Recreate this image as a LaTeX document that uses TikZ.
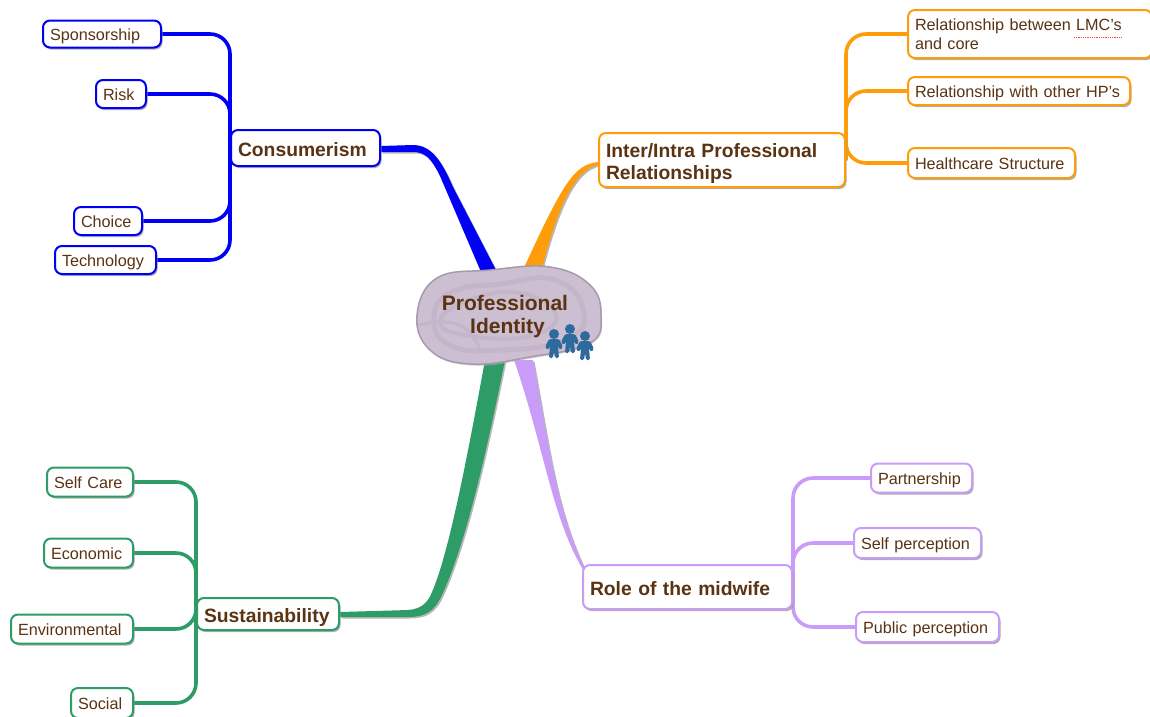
\documentclass[tikz,border=0pt]{standalone}
\usepackage{fontspec}
\setmainfont{Liberation Sans}
\usetikzlibrary{shadows,backgrounds}
\definecolor{mblue}{HTML}{0000F5}
\definecolor{morange}{HTML}{FF9C0A}
\definecolor{mgreen}{HTML}{2E9C66}
\definecolor{mpurple}{HTML}{C99CFA}
\definecolor{mbrown}{HTML}{5A3312}
\definecolor{mblob}{HTML}{CDBFD2}
\definecolor{mswirl}{HTML}{C4B5CA}
\definecolor{mpeople}{HTML}{2E6A9E}
\newcommand{\person}[2]{
	\fill[mpeople] (#1,#2-10) circle (5);
	\fill[mpeople,rounded corners=1.5] (#1-9,#2+3) -- (#1-5,#2-5) -- (#1+5,#2-5) -- (#1+9,#2+3) -- (#1+6,#2+6) -- (#1+4,#2+2) -- (#1+5,#2+14) -- (#1+1,#2+14) -- (#1,#2+7) -- (#1-1,#2+14) -- (#1-5,#2+14) -- (#1-4,#2+2) -- (#1-6,#2+6) -- cycle;
}
\begin{document}
\begin{tikzpicture}[x=1pt,y=-1pt,
				sub node/.style = {rectangle,rounded corners=7,draw,line width=2,fill=white,text=mbrown,anchor=west,align=left,inner xsep=7,inner ysep=0,
					text height=13.5pt,text depth=1.5pt,font=\fontsize{16.2}{19.5}\selectfont,
					drop shadow={shadow xshift=1.5pt,shadow yshift=-2pt,fill=black!40,opacity=.8}},
				main node/.style = {sub node,text height=17pt,text depth=1pt,font=\fontsize{19.3}{22}\selectfont\bfseries},
				branch/.style = {line width=3.6,rounded corners=20,preaction={draw=black!30,transform canvas={xshift=1pt,yshift=-1pt}}},
				trunk/.style = {drop shadow={shadow xshift=1.5pt,shadow yshift=-1.5pt,fill=black!40,opacity=.7}}]
	\clip (0,0) rectangle (1150,716);

	\node[text=mbrown,align=center,font=\fontsize{21}{23}\selectfont\bfseries,minimum width=184,minimum height=98] at (505,317) (0) {Professional\\\hspace{5pt}Identity};

	\node[main node,draw=mblue,text width=135,minimum height=36] at (230,148) (cons) {Consumerism};
	\node[sub node,draw=mblue,text width=104,minimum height=27] at (42,34) (spons) {Sponsorship};
	\node[sub node,draw=mblue,text width=36,minimum height=28] at (95,94) (risk) {Risk};
	\node[sub node,draw=mblue,text width=54,minimum height=28] at (73,221) (choice) {Choice};
	\node[sub node,draw=mblue,text width=87,minimum height=28] at (54,260) (tech) {Technology};

	\node[main node,draw=morange,text width=232,minimum height=54,text depth=23pt] at (598,160) (inter) {Inter/Intra Professional\\Relationships};
	\node[sub node,draw=morange,text width=230,minimum height=48,text depth=21pt] at (907,34) (lmc) {Relationship between LMC's\\and core};
	\node[sub node,draw=morange,text width=208,minimum height=28] at (907,91) (hps) {Relationship with other HP's};
	\node[sub node,draw=morange,text width=153,minimum height=30] at (907,163) (health) {Healthcare Structure};

	\node[main node,draw=mpurple,text width=195,minimum height=44] at (582,587) (role) {Role of the midwife};
	\node[sub node,draw=mpurple,text width=87,minimum height=29] at (870,478) (partner) {Partnership};
	\node[sub node,draw=mpurple,text width=113,minimum height=30] at (853,543) (self) {Self perception};
	\node[sub node,draw=mpurple,text width=129,minimum height=30] at (855,627) (public) {Public perception};

	\node[main node,draw=mgreen,text width=128,minimum height=32] at (196,614) (sust) {Sustainability};
	\node[sub node,draw=mgreen,text width=72,minimum height=29] at (46,482) (care) {Self Care};
	\node[sub node,draw=mgreen,text width=75,minimum height=29] at (43,553) (econ) {Economic};
	\node[sub node,draw=mgreen,text width=108,minimum height=29] at (10,629) (env) {Environmental};
	\node[sub node,draw=mgreen,text width=48,minimum height=30] at (70,703) (social) {Social};

	\draw[red!75,densely dotted,line width=.8] (1074,37) -- (1121,37);

	\person{554}{344}
	\person{570}{339}
	\person{585}{346}

	\begin{scope}[on background layer]
		\draw[branch,mblue] (cons.west) |- (spons.east);
		\draw[branch,mblue] (cons.west) |- (risk.east);
		\draw[branch,mblue] (cons.west) |- (choice.east);
		\draw[branch,mblue] (cons.west) |- (tech.east);
		\draw[branch,morange] (inter.east) |- (lmc.west);
		\draw[branch,morange] (inter.east) |- (hps.west);
		\draw[branch,morange] (inter.east) |- (health.west);
		\draw[branch,mpurple] (role.east) |- (partner.west);
		\draw[branch,mpurple] (role.east) |- (self.west);
		\draw[branch,mpurple] (role.east) |- (public.west);
		\draw[branch,mgreen] (sust.west) |- (care.east);
		\draw[branch,mgreen] (sust.west) |- (econ.east);
		\draw[branch,mgreen] (sust.west) |- (env.east);
		\draw[branch,mgreen] (sust.west) |- (social.east);

		\fill[trunk,mblue] ([yshift=2pt]cons.east) -- (413,145) .. controls (432,145) and (442,162) .. (453,187) -- (497,272) -- (481,272) -- (440,176) .. controls (431,158) and (425,152) .. (413,152) -- ([yshift=-4pt]cons.east) -- cycle;
		\fill[trunk,morange] ([yshift=-2pt]inter.west) .. controls (575,165) and (565,178) .. (522,272) -- (541,272) .. controls (558,205) and (575,170) .. ([yshift=-5pt]inter.west) -- cycle;
		\fill[trunk,mgreen] ([yshift=2pt]sust.east) -- (408,610) .. controls (422,609) and (428,602) .. (432,592) .. controls (448,555) and (465,470) .. (485,360) -- (505,360) .. controls (485,460) and (465,545) .. (442,595) .. controls (434,612) and (425,617) .. (408,617) -- ([yshift=-3pt]sust.east) -- cycle;
		\fill[trunk,mpurple] (514,360) .. controls (545,450) and (552,520) .. ([shift={(3pt,14pt)}]role.west) -- ([shift={(3pt,18pt)}]role.west) .. controls (556,510) and (548,440) .. (533,360) -- cycle;

		\draw[mswirl!85!black,line width=1.5,fill=mblob,drop shadow={shadow xshift=1pt,shadow yshift=-1.5pt,fill=black!30}] plot[smooth cycle,tension=.7] coordinates {(417,315) (437,278) (490,270) (550,267) (590,285) (601,315) (590,343) (530,357) (470,364) (430,350)};
		\draw[mswirl,line width=5] plot[smooth cycle,tension=.8] coordinates {(434,318) (452,292) (500,284) (555,280) (584,312) (565,340) (500,350) (450,345)};
		\draw[mswirl,line width=4] plot[smooth cycle,tension=.8] coordinates {(440,322) (470,300) (520,293) (556,315) (530,336) (470,336)};
		\draw[mswirl,line width=3] (418,325) .. controls (450,318) and (470,322) .. (480,350);
	\end{scope}
\end{tikzpicture}
\end{document}
